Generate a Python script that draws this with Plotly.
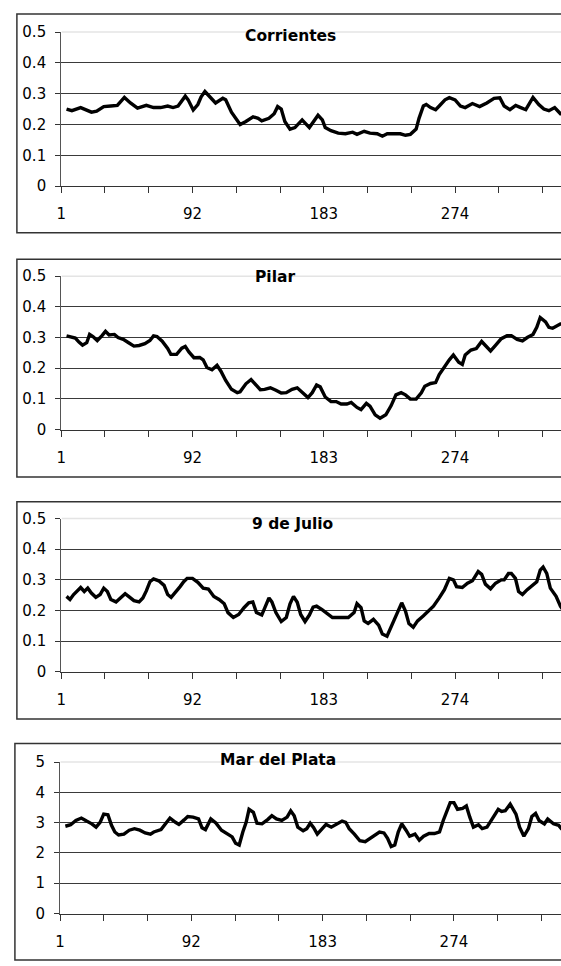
import plotly.graph_objects as go

W, H = 561, 966

# ---------------- data ----------------
corr_days = [4.7, 8.4, 14.5, 18, 22, 25.6, 30.5, 35.4, 39.9, 44.8, 49, 53.9, 60, 65, 69.9, 74.8, 78.5, 82, 87, 89,
             92.5, 95.7, 98, 100.6, 104, 108, 113, 115, 119, 123, 125, 129, 134, 137.5, 140, 145, 148.6, 151, 153.5,
             156, 159.6, 163, 168, 173, 177, 179, 182, 184, 188, 193, 198, 203, 206, 211, 215, 220, 223.6, 227, 232,
             236, 239.6, 243, 247, 249, 252, 254, 257, 260.5, 263, 267, 270, 274, 277.7, 281, 286, 291, 296, 301,
             305, 308, 312, 316, 319.5, 323, 328, 332, 335.5, 339, 343, 345, 347, 349]
corr_vals = [0.25, 0.245, 0.255, 0.247, 0.24, 0.243, 0.258, 0.26, 0.262, 0.288, 0.27, 0.253, 0.262, 0.255, 0.255,
             0.26, 0.255, 0.26, 0.292, 0.28, 0.247, 0.265, 0.29, 0.307, 0.29, 0.27, 0.285, 0.28, 0.24, 0.21, 0.2,
             0.21, 0.225, 0.22, 0.212, 0.22, 0.235, 0.258, 0.25, 0.21, 0.185, 0.19, 0.215, 0.19, 0.215, 0.23, 0.215,
             0.19, 0.18, 0.172, 0.17, 0.175, 0.168, 0.178, 0.172, 0.17, 0.162, 0.17, 0.17, 0.17, 0.165, 0.168, 0.185,
             0.22, 0.26, 0.265, 0.255, 0.248, 0.26, 0.28, 0.287, 0.28, 0.26, 0.255, 0.268, 0.258, 0.27, 0.285, 0.287,
             0.26, 0.248, 0.262, 0.255, 0.248, 0.288, 0.265, 0.25, 0.245, 0.255, 0.245, 0.235, 0.235]

pilar_days = [4.7, 8.4, 10.8, 13.3, 15.8, 18.7, 20.7, 23, 26, 29.3, 31.7, 34.2, 37.9, 40.4, 44, 48, 51.4, 55, 59,
              62.5, 65, 67.4, 71, 74.8, 77, 81, 84.6, 87, 89.5, 93, 97, 99.4, 102, 105.5, 109, 111.7, 115, 119, 123,
              125, 129, 132.6, 135, 139, 142, 146, 149.8, 153.5, 157, 161, 164.6, 168, 172, 175, 178, 180.5, 184,
              188, 191.6, 195, 199, 202, 206, 208.8, 212.5, 215, 218.6, 222, 226, 229.7, 233, 236.6, 239.6, 243,
              247, 250.6, 253, 257, 260.5, 263, 266.6, 270, 272.8, 276.5, 279, 281, 285, 288.7, 292.4, 296, 298.6,
              302, 306, 310, 313, 317, 320.7, 324, 328, 330.6, 333, 336.7, 339, 341.6, 345, 347, 349]
pilar_vals = [0.305, 0.301, 0.298, 0.285, 0.275, 0.283, 0.31, 0.303, 0.29, 0.306, 0.32, 0.308, 0.31, 0.3, 0.294,
              0.282, 0.272, 0.274, 0.28, 0.29, 0.305, 0.303, 0.288, 0.264, 0.245, 0.245, 0.265, 0.271, 0.253, 0.234,
              0.235, 0.227, 0.202, 0.195, 0.209, 0.19, 0.16, 0.131, 0.12, 0.123, 0.149, 0.163, 0.149, 0.13, 0.131,
              0.136, 0.128, 0.119, 0.12, 0.131, 0.136, 0.12, 0.104, 0.12, 0.145, 0.139, 0.106, 0.091, 0.091, 0.083,
              0.083, 0.088, 0.072, 0.065, 0.085, 0.076, 0.048, 0.037, 0.048, 0.078, 0.113, 0.12, 0.113, 0.099, 0.099,
              0.12, 0.141, 0.15, 0.153, 0.179, 0.205, 0.227, 0.243, 0.219, 0.212, 0.243, 0.259, 0.264, 0.287, 0.269,
              0.256, 0.274, 0.296, 0.306, 0.306, 0.294, 0.289, 0.3, 0.31, 0.333, 0.365, 0.351, 0.333, 0.33, 0.34,
              0.344, 0.344]

julio_days = [4.7, 7.1, 9.6, 12, 14.5, 17, 19.4, 21.9, 25, 28, 30.5, 33, 35.4, 39, 42.8, 45.3, 47.7, 51.4, 55, 57.6,
              60, 62.5, 65, 68.6, 72.3, 74.8, 77.2, 81, 83.4, 85.9, 88.3, 92, 95.7, 99.4, 103, 106.8, 110.4, 114,
              116.6, 120.3, 124, 127.7, 131, 133.8, 136.3, 140, 142.4, 145, 147, 149.8, 153.5, 157, 159.6, 162,
              164.6, 167, 170, 173, 175.6, 178, 181.8, 185.5, 189, 192.8, 196.5, 200, 204, 206, 208.8, 211, 213.7,
              217.4, 221, 223.6, 226.8, 229.7, 232, 234.6, 237, 239.6, 242, 245, 248, 251.9, 255.5, 259, 263, 266.6,
              270, 272.8, 275, 279, 282.6, 286, 290, 292.4, 295, 298.6, 302, 306, 308, 311, 313, 315.8, 318, 320.7,
              324, 328, 330.6, 333, 335, 337.5, 340, 344, 347, 349]
julio_vals = [0.246, 0.236, 0.252, 0.262, 0.275, 0.262, 0.273, 0.257, 0.243, 0.252, 0.273, 0.262, 0.236, 0.228,
              0.246, 0.255, 0.246, 0.232, 0.228, 0.241, 0.264, 0.294, 0.303, 0.297, 0.282, 0.252, 0.243, 0.262,
              0.278, 0.294, 0.305, 0.305, 0.292, 0.273, 0.27, 0.246, 0.236, 0.222, 0.193, 0.177, 0.187, 0.209,
              0.225, 0.228, 0.193, 0.185, 0.214, 0.241, 0.228, 0.193, 0.164, 0.177, 0.222, 0.246, 0.227, 0.187,
              0.164, 0.185, 0.211, 0.214, 0.203, 0.19, 0.177, 0.177, 0.177, 0.177, 0.193, 0.222, 0.209, 0.166,
              0.158, 0.171, 0.152, 0.123, 0.116, 0.147, 0.177, 0.198, 0.225, 0.198, 0.157, 0.145, 0.166, 0.182,
              0.198, 0.214, 0.241, 0.268, 0.305, 0.3, 0.278, 0.275, 0.289, 0.297, 0.327, 0.318, 0.286, 0.271, 0.289,
              0.3, 0.3, 0.321, 0.321, 0.305, 0.262, 0.252, 0.268, 0.284, 0.294, 0.332, 0.342, 0.321, 0.273, 0.246,
              0.214, 0.2]

mdp_days = [4.7, 8.4, 12, 15.8, 19.4, 23, 26, 28.8, 31.3, 34.2, 36.7, 39, 41.6, 45.3, 49, 52.6, 56.3, 60, 63.7,
            66, 71, 74.8, 77.2, 81, 83.4, 87, 89.5, 93.2, 97, 99.4, 101.8, 105.5, 109, 112.9, 116.6, 120.3, 122.7,
            125.2, 127.7, 130, 132, 135, 137.5, 141, 144.9, 147.8, 151, 154.7, 158.4, 160.9, 163.3, 165.8, 169.5,
            172, 174.4, 176.8, 179.3, 183, 185.4, 189, 192.8, 196.5, 199, 201.4, 205, 208.8, 212.5, 216, 220,
            222.4, 225.5, 228, 230.5, 233, 235.4, 237.8, 240.8, 243.3, 247, 250, 253, 256.8, 260.5, 264, 266.6,
            269.7, 271.4, 274, 276.5, 280, 282.6, 285, 287.5, 291, 293.6, 296.9, 299.8, 302, 304.7, 307, 309.6,
            313, 317, 319.5, 322.5, 325.6, 328, 330.6, 333, 336.7, 339, 343, 346.6, 348.5, 350]
mdp_vals = [2.88, 2.93, 3.07, 3.15, 3.05, 2.96, 2.85, 3.01, 3.28, 3.26, 2.91, 2.69, 2.59, 2.62, 2.75, 2.8, 2.75,
            2.66, 2.62, 2.69, 2.77, 3.01, 3.15, 3.01, 2.94, 3.09, 3.2, 3.18, 3.12, 2.83, 2.77, 3.12, 2.99, 2.75,
            2.64, 2.53, 2.32, 2.26, 2.69, 3.01, 3.44, 3.34, 2.98, 2.96, 3.1, 3.23, 3.12, 3.07, 3.18, 3.39, 3.23,
            2.85, 2.73, 2.8, 2.98, 2.83, 2.62, 2.8, 2.94, 2.85, 2.96, 3.05, 3.01, 2.8, 2.62, 2.4, 2.37, 2.48, 2.62,
            2.69, 2.66, 2.48, 2.21, 2.26, 2.69, 2.96, 2.75, 2.55, 2.62, 2.42, 2.55, 2.64, 2.64, 2.69, 3.07, 3.5,
            3.66, 3.66, 3.44, 3.47, 3.55, 3.18, 2.85, 2.93, 2.8, 2.85, 3.09, 3.25, 3.44, 3.37, 3.39, 3.61, 3.28,
            2.85, 2.55, 2.8, 3.2, 3.3, 3.07, 2.96, 3.12, 2.96, 2.91, 2.8, 2.75]

titles = ["Corrientes", "Pilar", "9 de Julio", "Mar del Plata"]
series_days = [corr_days, pilar_days, julio_days, mdp_days]
series_vals = [corr_vals, pilar_vals, julio_vals, mdp_vals]

x_tick_vals = [1 + k * 91 / 3 for k in range(13)]
x_tick_text = ["1", "", "", "92", "", "", "183", "", "", "274", "", "", "365"]
y_ticks_small = [0, 0.1, 0.2, 0.3, 0.4, 0.5]
y_ticks_large = [0, 1, 2, 3, 4, 5]

# ---------------- layout geometry (pixels) ----------------
panels = [
    dict(ytop=23.5, ybot=180.5, ax=56.7, xmax=347.4, btop=5, bbot=228, bleft=12, tx=288, ty=27.5),
    dict(ytop=272.2, ybot=428.5, ax=56.7, xmax=347.4, btop=255, bbot=477, bleft=12, tx=272, ty=273.5),
    dict(ytop=519.3, ybot=675.3, ax=56.7, xmax=347.4, btop=502, bbot=723.5, bleft=12, tx=290, ty=525),
    dict(ytop=767.3, ybot=921.7, ax=55.5, xmax=348.2, btop=748.5, bbot=969, bleft=10, tx=275, ty=765),
]

def py(p):
    return 1 - p / H

def px(p):
    return p / W

fig = go.Figure()
layout = dict(width=W, height=H, margin=dict(l=0, r=0, t=0, b=0),
              paper_bgcolor="white", plot_bgcolor="white", showlegend=False)
shapes = []
annotations = []
font = dict(family="DejaVu Sans, Arial, sans-serif", size=15, color="black")

for i, p in enumerate(panels):
    n = i + 1
    xa = "xaxis" if n == 1 else f"xaxis{n}"
    ya = "yaxis" if n == 1 else f"yaxis{n}"
    xr = "x" if n == 1 else f"x{n}"
    yr = "y" if n == 1 else f"y{n}"
    fig.add_trace(go.Scatter(x=series_days[i], y=series_vals[i], mode="lines",
                             line=dict(color="black", width=3.4), xaxis=xr, yaxis=yr,
                             hoverinfo="skip", cliponaxis=True))
    yt = y_ticks_large if i == 3 else y_ticks_small
    layout[xa] = dict(domain=[px(p["ax"]), 1], range=[1, p["xmax"]], anchor=yr,
                      tickmode="array", tickvals=x_tick_vals, ticktext=x_tick_text,
                      ticks="outside", ticklen=6, tickcolor="#333", tickwidth=1,
                      showline=True, linecolor="#333", linewidth=1, showgrid=False, zeroline=False,
                      tickfont=font, ticklabelstandoff=8, fixedrange=True)
    layout[ya] = dict(domain=[py(p["ybot"]), py(p["ytop"])], range=[yt[0], yt[-1]], anchor=xr,
                      tickmode="array", tickvals=yt, ticktext=[str(v) for v in yt],
                      ticks="outside", ticklen=5, tickcolor="#333", tickwidth=1,
                      showline=True, linecolor="#555", linewidth=1,
                      showgrid=True, gridcolor="#3a3a3a", gridwidth=1, zeroline=False,
                      tickfont=font, ticklabelstandoff=6, fixedrange=True)
    shapes.append(dict(type="line", xref="paper", yref="paper", x0=px(p["ax"]) + 0.001, x1=1,
                       y0=py(p["ytop"]), y1=py(p["ytop"]), line=dict(color="#e4e4e4", width=1.5),
                       layer="above"))
    shapes.append(dict(type="rect", xref="paper", yref="paper", x0=px(p["bleft"]), x1=1.05,
                       y0=py(p["bbot"]), y1=py(p["btop"]), line=dict(color="#333", width=1.5),
                       fillcolor="rgba(0,0,0,0)", layer="below"))
    annotations.append(dict(text=f"<b>{titles[i]}</b>", xref="paper", yref="paper",
                            x=px(p["tx"]), y=py(p["ty"]), xanchor="center", yanchor="middle",
                            showarrow=False, font=dict(family="DejaVu Sans, Arial, sans-serif",
                                                       size=15.5, color="black")))

layout["shapes"] = shapes
layout["annotations"] = annotations
fig.update_layout(**layout)
fig.write_html("out.html", config={"displayModeBar": False},
               post_script="document.body.style.margin='0';document.body.style.overflow='hidden';")
